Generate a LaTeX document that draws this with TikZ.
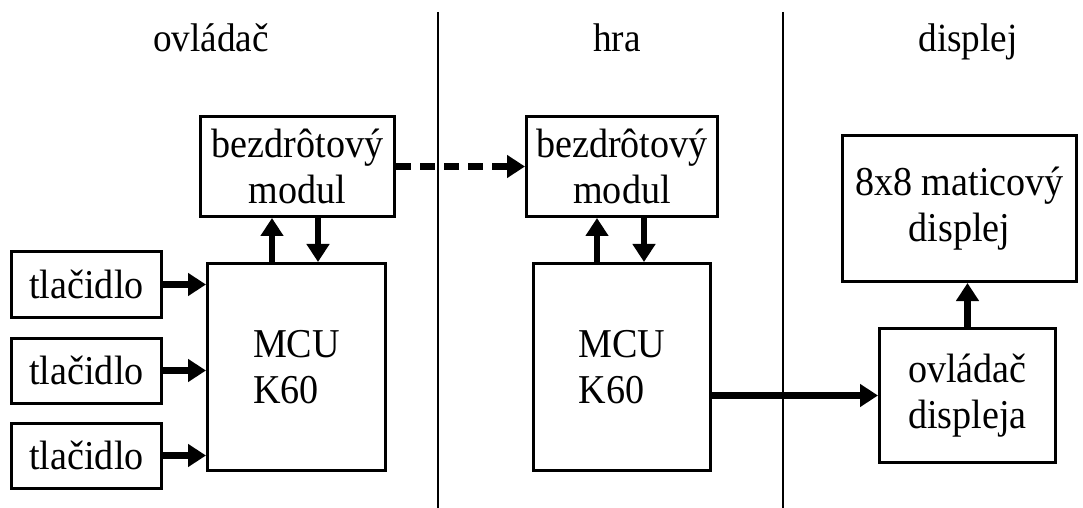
\documentclass[tikz,border=0pt]{standalone}
\usepackage{fontspec}
\setmainfont{Liberation Serif}[FakeStretch=0.93]
\usetikzlibrary{arrows.meta,positioning}

\begin{document}
\begin{tikzpicture}[x=0.5pt, y=-0.5pt, thick]
    % Styly
    \tikzstyle{blok}=[rectangle, draw=black, line width=1.5pt, inner sep=0pt, align=center, font=\fontsize{20.5}{23}\selectfont]
    \tikzstyle{nadpis}=[anchor=base, font=\fontsize{20}{23}\selectfont]
    \tikzstyle{arrow}=[line width=3.4pt, -{Triangle[length=9pt, width=11pt]}]
    \tikzstyle{oddelovac}=[line width=0.6pt]
    \useasboundingbox (0,0) rectangle (1083,508);

    % Nadpisy sekcii
    \node (hOvl) [nadpis] at (211,52) {ovládač};
    \node (hHra) [nadpis] at (617,52) {hra};
    \node (hDisp) [nadpis] at (968,52) {displej};

    % Oddelovace
    \coordinate (s1t) at (438,12);
    \coordinate (s1b) at (438,508);
    \coordinate (s2t) at (783,12);
    \coordinate (s2b) at (783,508);
    \draw [oddelovac] (s1t) -- (s1b);
    \draw [oddelovac] (s2t) -- (s2b);

    % Ovladac
    \node (mod1) [blok, minimum width=97pt, minimum height=50pt] at (297.5,166.5) {bezdrôtový\\modul};
    \node (mcu1) [blok, minimum width=89pt, minimum height=103.5pt, align=left] at (296.5,367) {MCU\\K60};
    \node (tl1) [blok, minimum width=75pt, minimum height=32.5pt] at (86.5,284.5) {tlačidlo};
    \node (tl2) [blok, minimum width=75pt, minimum height=32.5pt, below=9pt of tl1] {tlačidlo};
    \node (tl3) [blok, minimum width=75pt, minimum height=32.5pt, below=8.5pt of tl2] {tlačidlo};

    % Hra
    \node (mod2) [blok, minimum width=95.5pt, minimum height=50pt] at (622,166.5) {bezdrôtový\\modul};
    \node (mcu2) [blok, minimum width=88.5pt, minimum height=103.5pt, align=left] at (622,367) {MCU\\K60};

    % Displej
    \node (disp) [blok, minimum width=117pt, minimum height=73pt] at (959.5,208.5) {8x8 maticový\\displej};
    \node (drv) [blok, minimum width=88pt, minimum height=67pt] at (967.5,395.5) {ovládač\\displeja};

    % Spojenia
    \draw [arrow] (tl1.east) -- (tl1.east -| mcu1.west);
    \draw [arrow] (tl2.east) -- (tl2.east -| mcu1.west);
    \draw [arrow] (tl3.east) -- (tl3.east -| mcu1.west);
    \draw [arrow] ([xshift=-12.25pt]mcu1.north) -- ([xshift=-12.25pt]mcu1.north |- mod1.south);
    \draw [arrow] ([xshift=10.25pt]mod1.south) -- ([xshift=10.25pt]mod1.south |- mcu1.north);
    \draw [arrow, dash pattern=on 7.5pt off 4.5pt] (mod1.east) -- (mod2.west);
    \draw [arrow] ([xshift=-12.5pt]mcu2.north) -- ([xshift=-12.5pt]mcu2.north |- mod2.south);
    \draw [arrow] ([xshift=11pt]mod2.south) -- ([xshift=11pt]mod2.south |- mcu2.north);
    \draw [arrow] (drv.west -| mcu2.east) -- (drv.west);
    \draw [arrow] (drv.north) -- (drv.north |- disp.south);

\end{tikzpicture}
\end{document}
